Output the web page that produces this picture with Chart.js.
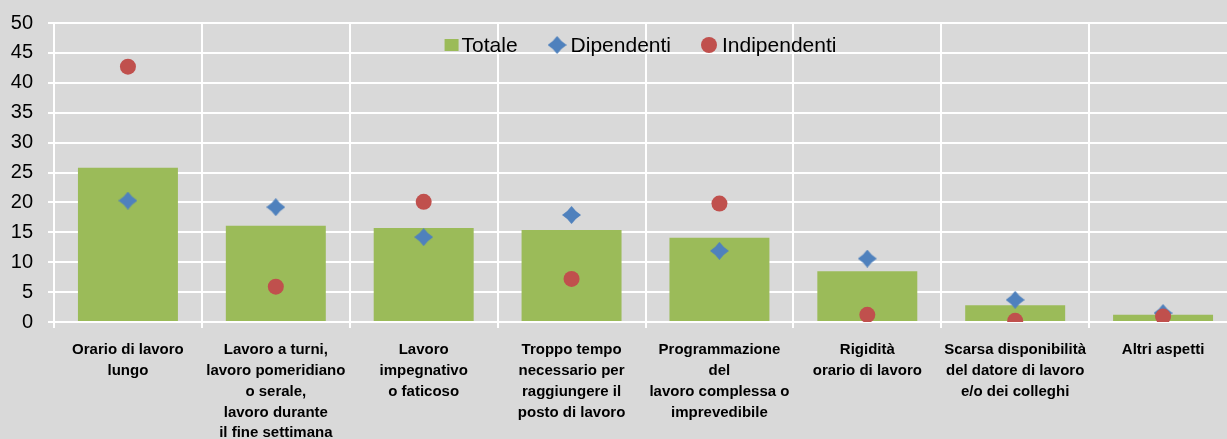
<!DOCTYPE html>
<html>
<head>
<meta charset="utf-8">
<script src="https://cdn.jsdelivr.net/npm/chart.js@4/dist/chart.umd.min.js"></script>
<style>
  html, body { margin: 0; padding: 0; background: #d9d9d9; overflow: hidden; }
  #wrap { width: 1246px; height: 439px; position: relative; }
</style>
</head>
<body>
<div id="wrap"><canvas id="c"></canvas></div>
<script>
const categories = [
  ["Orario di lavoro", "lungo"],
  ["Lavoro a turni,", "lavoro pomeridiano", "o serale,", "lavoro durante", "il fine settimana"],
  ["Lavoro", "impegnativo", "o faticoso"],
  ["Troppo tempo", "necessario per", "raggiungere il", "posto di lavoro"],
  ["Programmazione", "del", "lavoro complessa o", "imprevedibile"],
  ["Rigidità", "orario di lavoro"],
  ["Scarsa disponibilità", "del datore di lavoro", "e/o dei colleghi"],
  ["Altri aspetti"]
];
const seriesNames = ["Totale", "Dipendenti", "Indipendenti"];
const totale      = [25.8, 16.1, 15.7, 15.4, 14.1, 8.5, 2.8, 1.2];
const dipendenti  = [20.3, 19.2, 14.2, 17.9, 11.9, 10.6, 3.7, 1.5];
const indipendenti= [42.7, 5.9, 20.1, 7.2, 19.8, 1.2, 0.2, 0.9];
const yTicks = [0, 5, 10, 15, 20, 25, 30, 35, 40, 45, 50];

const GREEN = '#9bbb59', BLUE = '#4f81bd', RED = '#c0504d';
const FONT = '"Liberation Sans Narrow", "Arial Narrow", "Liberation Sans", Arial, sans-serif';

function makeDiamond(w, h, color) {
  const cv = document.createElement('canvas');
  cv.width = w; cv.height = h;
  const g = cv.getContext('2d');
  const cx = w / 2, cy = h / 2;
  const k = 0.2;
  g.fillStyle = color;
  g.beginPath();
  g.moveTo(cx, 0);
  g.quadraticCurveTo(cx + w * k, cy - h * k, w, cy);
  g.quadraticCurveTo(cx + w * k, cy + h * k, cx, h);
  g.quadraticCurveTo(cx - w * k, cy + h * k, 0, cy);
  g.quadraticCurveTo(cx - w * k, cy - h * k, cx, 0);
  g.closePath();
  g.fill();
  return cv;
}
const diamond = makeDiamond(19, 18, BLUE);

const legendPlugin = {
  id: 'floatLegend',
  afterDraw(chart) {
    const ctx = chart.ctx;
    const area = chart.chartArea;
    ctx.save();
    ctx.font = '21px ' + FONT;
    ctx.textBaseline = 'middle';
    ctx.fillStyle = '#000';
    const markerW = [14, 19, 16];
    const markerGap = [3, 4, 5];
    const itemGap = 30;
    let total = 0;
    const tw = seriesNames.map(s => ctx.measureText(s).width);
    for (let i = 0; i < 3; i++) total += markerW[i] + markerGap[i] + tw[i] + (i < 2 ? itemGap : 0);
    let x = (area.left + area.right) / 2 - total / 2 - 5;
    const y = 45;
    for (let i = 0; i < 3; i++) {
      if (i === 0) {
        ctx.fillStyle = GREEN;
        ctx.fillRect(x, y - 6, 14, 12);
      } else if (i === 1) {
        ctx.drawImage(diamond, x, y - 9);
      } else {
        ctx.fillStyle = RED;
        ctx.beginPath();
        ctx.arc(x + 8, y, 8, 0, Math.PI * 2);
        ctx.fill();
      }
      x += markerW[i] + markerGap[i];
      ctx.fillStyle = '#000';
      ctx.fillText(seriesNames[i], x, y + 1);
      x += tw[i] + itemGap;
    }
    ctx.restore();
  }
};

new Chart(document.getElementById('c'), {
  type: 'bar',
  data: {
    labels: categories,
    datasets: [
      {
        type: 'line', label: seriesNames[2], data: indipendenti,
        showLine: false, pointStyle: 'circle', pointRadius: 8, pointHoverRadius: 8,
        backgroundColor: RED, borderColor: RED, borderWidth: 0, order: 0
      },
      {
        type: 'line', label: seriesNames[1], data: dipendenti,
        showLine: false, pointStyle: diamond, pointRadius: 9, pointHoverRadius: 9,
        backgroundColor: BLUE, borderColor: BLUE, borderWidth: 0, order: 1
      },
      {
        type: 'bar', label: seriesNames[0], data: totale,
        backgroundColor: GREEN, borderWidth: 0,
        categoryPercentage: 1.0, barPercentage: 0.676, order: 2
      }
    ]
  },
  options: {
    responsive: true,
    maintainAspectRatio: false,
    animation: false,
    layout: { padding: { top: 23, right: 2, left: 0, bottom: 0 } },
    plugins: { legend: { display: false }, tooltip: { enabled: false } },
    scales: {
      x: {
        offset: true,
        grid: { color: '#ffffff', lineWidth: 2, offset: true, drawTicks: true, tickLength: 6, tickColor: '#ffffff' },
        border: { display: true, color: '#ffffff', width: 2 },
        ticks: {
          color: '#000', autoSkip: false, maxRotation: 0, minRotation: 0, padding: 12,
          font: { family: FONT, size: 15, weight: 'bold', lineHeight: 1.38 }
        },
        afterFit(scale) { scale.height = 117; }
      },
      y: {
        min: 0, max: 50,
        afterBuildTicks(scale) { scale.ticks = yTicks.map(v => ({ value: v })); },
        grid: { color: '#ffffff', lineWidth: 2, drawTicks: true, tickLength: 6, tickColor: '#ffffff' },
        border: { display: true, color: '#ffffff', width: 2 },
        ticks: { color: '#000', padding: 15, font: { family: FONT, size: 20 } },
        afterFit(scale) { scale.width = 54; scale.paddingTop = 0; scale.paddingBottom = 0; }
      }
    }
  },
  plugins: [legendPlugin]
});
</script>
</body>
</html>
